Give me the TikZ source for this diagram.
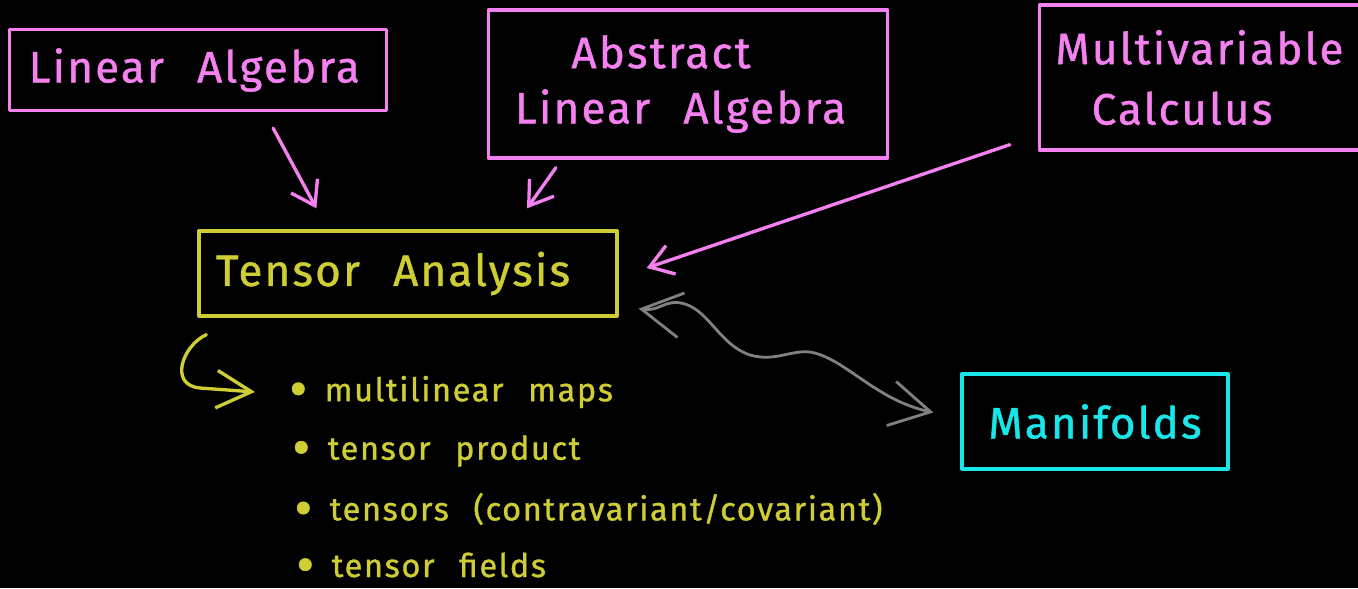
\documentclass[tikz,border=0pt]{standalone}
\usepackage{fontspec}
\setmainfont[LetterSpace=5,WordSpace=2.4,FakeBold=1]{Fira Sans}
\usetikzlibrary{calc,arrows.meta,positioning}
\definecolor{sketchPink}{RGB}{245,128,240}
\definecolor{sketchOlive}{RGB}{206,206,52}
\definecolor{sketchCyan}{RGB}{24,230,232}
\definecolor{sketchGray}{RGB}{128,128,128}
\newcommand{\bigtxt}{\fontsize{25}{31.5}\selectfont}
\newcommand{\smalltxt}{\fontsize{18.5}{22}\selectfont}
\newcommand{\dotitem}{\raisebox{-0.2em}[0.5em][0pt]{\scalebox{1.7}{\textbullet}}\hspace{0.35cm}}
\begin{document}
\begin{tikzpicture}[x=0.02cm,y=-0.02cm,line cap=round,line join=round,
  topicbox/.style={draw,line width=1.9pt,inner sep=0pt,align=center,font=\bigtxt},
  pinkarrow/.style={sketchPink,line width=1.9pt,-{Straight Barb[length=0.45cm,width=0.6cm,line width=1.9pt]}},
  itemtext/.style={anchor=west,inner sep=0pt,text=sketchOlive,font=\smalltxt}]
  \useasboundingbox[fill=black] (0,0) rectangle (1358,588);
  % boxes
  \node[topicbox,sketchPink,minimum width=7.54cm,minimum height=1.62cm] (la) at (198,70) {Linear Algebra\hspace*{0.15cm}};
  \node[topicbox,sketchPink,minimum width=7.98cm,minimum height=2.96cm] (ala) at (688,84) {Abstract\hspace*{1.08cm}\\Linear Algebra\hspace*{0.3cm}};
  \node[topicbox,sketchPink,minimum width=6.5cm,minimum height=2.9cm] (mc) at (1202,77.5) {\raisebox{0.1cm}{Multivariable}\hspace*{0.1cm}\\Calculus\hspace*{0.8cm}};
  \node[topicbox,sketchOlive,minimum width=8.36cm,minimum height=1.7cm] (ta) at (408,273.5) {Tensor Analysis\hspace*{0.6cm}};
  \node[topicbox,sketchCyan,minimum width=5.32cm,minimum height=1.9cm] (mf) at (1095,421.5) {Manifolds};
  % list
  \node[itemtext] (b1) at (289,392) {\dotitem multilinear maps};
  \node[itemtext] (b2) at (292,451) {\dotitem tensor product};
  \node[itemtext] (b3) at (294,509) {\dotitem tensors (contravariant/covariant)};
  \node[itemtext] (b4) at (296,565) {\dotitem tensor fields};
  % arrows
  \draw[pinkarrow] ($(la.south east)+(-115,16)$) -- ($(ta.north west)+(119,-21)$);
  \draw[pinkarrow] ($(ala.south west)+(69,8)$) -- ($(ta.north)+(119,-21)$);
  \draw[pinkarrow] ($(mc.south west)+(-28,-7)$) -- ($(ta.east)+(28,-5.5)$);
  \draw[sketchOlive,line width=1.9pt,-{Straight Barb[length=0.7cm,width=0.75cm,line width=1.9pt]}]
    ($(ta.south west)+(9,17)$) .. controls (183,345) and (168,385) .. (200,388) -- ($(b1.west)+(-34,0)$);
  \draw[sketchGray,line width=1.6pt,{Straight Barb[length=0.8cm,width=0.9cm,line width=1.6pt]}-{Straight Barb[length=0.8cm,width=0.9cm,line width=1.6pt]}]
    ($(ta.south east)+(20,-9)$) .. controls (660,312) and (665,298) .. (685,304)
    .. controls (710,312) and (720,345) .. (750,355)
    .. controls (775,362) and (790,350) .. (810,352)
    .. controls (845,358) and (875,400) .. ($(mf.west)+(-27,-9)$);
\end{tikzpicture}
\end{document}
